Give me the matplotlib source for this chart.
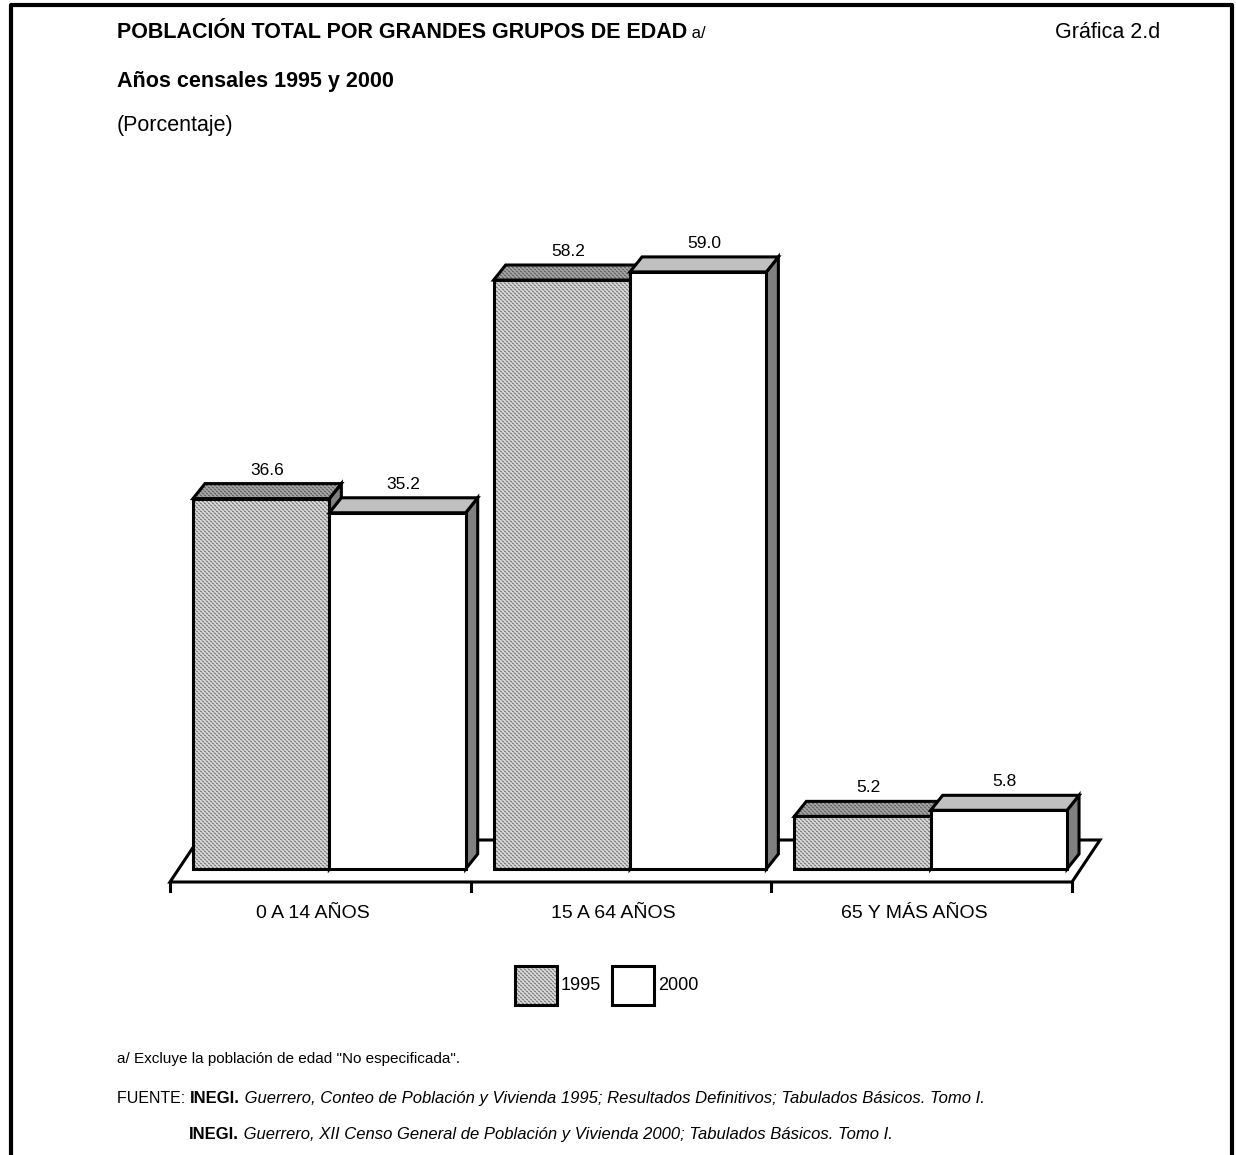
import numpy as np
import matplotlib
matplotlib.use('Agg')
import matplotlib.pyplot as plt
from matplotlib.patches import Polygon

plt.rcParams['font.family'] = ['Liberation Sans', 'DejaVu Sans']

# porcentajes por grupo de edad
grupos = ['0 A 14 AÑOS', '15 A 64 AÑOS', '65 Y MÁS AÑOS']
anios = ['1995', '2000']
p1995 = [36.6, 58.2, 5.2]
p2000 = [35.2, 59.0, 5.8]

W, H = 1236, 1155
fig = plt.figure(figsize=(W / 100, H / 100), dpi=100)

# capa de fondo en pixeles para textos, marco y leyenda
bg = fig.add_axes([0, 0, 1, 1])
bg.axis('off')

# ejes de la grafica (x: categorias, y: porcentaje)
AX_W, AX_H = 902, 642
px_x = AX_W / 3.0
px_y = 10.12
ax = fig.add_axes([170 / W, 1 - 882 / H, AX_W / W, AX_H / H])
ax.axis('off')
xlim = (0, 3)
ylim = (-13 / px_y, 629 / px_y)

DX, DY = 12 / px_x, 15 / px_y          # profundidad de las barras
FDX, FDY = 28 / px_x, 42 / px_y        # profundidad del piso
y_front = -13 / px_y
lw = 2.2


def texture(h, w, dark, light):
    # franjas diagonales punteadas
    i, j = np.mgrid[0:h, 0:w]
    band = (i - j) % 4 < 2
    dots = (i % 2 == 0)
    out = np.where(band, dark, light)
    out = np.where(band & dots, (dark + light) / 2, out)
    return out


def patterned(a, verts, dark, light, z, extent, shape):
    # imagen del tamano exacto de los ejes, recortada al poligono
    poly = Polygon(verts, closed=True, facecolor='none', edgecolor='black',
                   lw=lw, zorder=z + 0.5, clip_on=False, joinstyle='miter')
    a.add_patch(poly)
    im = a.imshow(texture(shape[0], shape[1], dark, light), cmap='gray',
                  vmin=0, vmax=1, extent=extent, aspect='auto', origin='upper',
                  interpolation='nearest', zorder=z)
    im.set_clip_path(poly)
    return poly


def solid(a, verts, color, z):
    a.add_patch(Polygon(verts, closed=True, facecolor=color, edgecolor='black',
                        lw=lw, zorder=z, clip_on=False, joinstyle='miter'))


ax_ext = (xlim[0], xlim[1], ylim[0], ylim[1])
ax_shape = (AX_H, AX_W)

# piso
floor = [(0, y_front), (3, y_front), (3 + FDX, y_front + FDY), (FDX, y_front + FDY)]
solid(ax, floor, 'white', 1)
for t in range(4):
    ax.plot([t, t], [y_front, y_front - 9 / px_y], color='black', lw=lw,
            clip_on=False, zorder=1)

off = 0.0765
bw = 0.4535
z = 2
for g in range(3):
    for k, vals in enumerate([p1995, p2000]):
        v = vals[g]
        x0 = g + off + k * bw
        x1 = x0 + bw
        top = [(x0, v), (x0 + DX, v + DY), (x1 + DX, v + DY), (x1, v)]
        side = [(x1, 0), (x1, v), (x1 + DX, v + DY), (x1 + DX, DY)]
        front = [(x0, 0), (x0, v), (x1, v), (x1, 0)]
        solid(ax, side, '#808080', z)
        if k == 0:
            patterned(ax, top, 0.42, 0.64, z + 1, ax_ext, ax_shape)
            patterned(ax, front, 0.52, 0.84, z + 2, ax_ext, ax_shape)
        else:
            solid(ax, top, '#c0c0c0', z + 1)
            solid(ax, front, 'white', z + 2)
        ax.text((x0 + x1 + DX) / 2, v + DY + 9 / px_y, f'{v:.1f}',
                ha='center', va='baseline', fontsize=12.5, zorder=20)
        z += 4
ax.set_xlim(*xlim)
ax.set_ylim(*ylim)

for g, name in enumerate(grupos):
    ax.text(g + 0.5 - 0.025, -44 / px_y, name, ha='center', va='center', fontsize=14)

# leyenda
bg_ext = (0, W, H, 0)
patterned(bg, [(515, 966), (557, 966), (557, 1005), (515, 1005)], 0.52, 0.84, 5,
          bg_ext, (H, W))
bg.text(561, 986, anios[0], ha='left', va='center', fontsize=13)
solid(bg, [(612, 966), (654, 966), (654, 1005), (612, 1005)], 'white', 5)
bg.text(658, 986, anios[1], ha='left', va='center', fontsize=13)
bg.set_xlim(0, W)
bg.set_ylim(H, 0)

renderer = fig.canvas.get_renderer()


def run(x, y, parts, size):
    for s, kw in parts:
        props = dict(fontsize=size)
        props.update(kw)
        t = bg.text(x, y, s, ha='left', va='baseline', **props)
        x += t.get_window_extent(renderer=renderer).width
    return x


run(117, 38, [('POBLACIÓN TOTAL POR GRANDES GRUPOS DE EDAD', dict(fontweight='bold')),
              (' a/', dict(fontsize=12))], 15.5)
bg.text(1160, 38, 'Gráfica 2.d', ha='right', va='baseline', fontsize=15.5)
bg.text(117, 87, 'Años censales 1995 y 2000', ha='left', va='baseline',
        fontsize=15.5, fontweight='bold')
bg.text(117, 131, '(Porcentaje)', ha='left', va='baseline', fontsize=15.5)

bg.text(117, 1063, 'a/ Excluye la población de edad "No especificada".',
        ha='left', va='baseline', fontsize=11)
x = run(117, 1103, [('FUENTE: ', {})], 11.5)
run(x, 1103, [('INEGI.', dict(fontweight='bold')),
              (' Guerrero, Conteo de Población y Vivienda 1995; Resultados Definitivos; '
               'Tabulados Básicos. Tomo I.', dict(fontstyle='italic'))], 12)
run(189, 1139, [('INEGI.', dict(fontweight='bold')),
                (' Guerrero, XII Censo General de Población y Vivienda 2000; '
                 'Tabulados Básicos. Tomo I.', dict(fontstyle='italic'))], 12)

# marco
bg.plot([11, 11, 1232, 1232], [H, 5, 5, H], color='black', lw=3, clip_on=False)

fig.savefig('out.png', dpi=100)
